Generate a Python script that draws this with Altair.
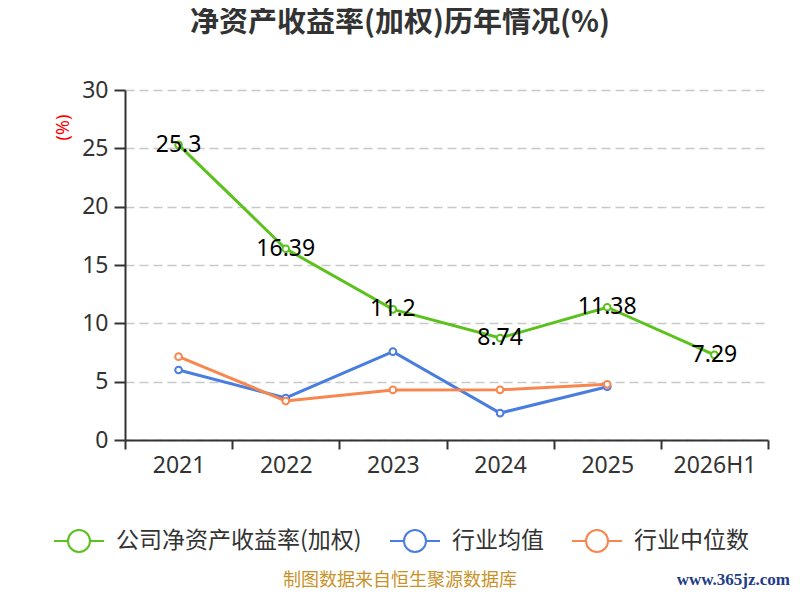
import altair as alt
import pandas as pd

years = ["2021", "2022", "2023", "2024", "2025", "2026H1"]
company = [25.3, 16.39, 11.2, 8.74, 11.38, 7.29]
ind_avg = [6.0, 3.6, 7.57, 2.31, 4.57]
ind_med = [7.14, 3.34, 4.29, 4.3, 4.77]

s_company = "公司净资产收益率(加权)"
s_avg = "行业均值"
s_med = "行业中位数"
series = [s_company, s_avg, s_med]
colors = ["#5bc11d", "#4a7de0", "#f8864f"]

title_text = "净资产收益率(加权)历年情况(%)"
footer_text = "制图数据来自恒生聚源数据库"
site_text = "www.365jz.com"

rows = []
for y, v in zip(years, company):
    rows.append({"year": y, "value": v, "series": s_company, "label": f"{v:g}"})
for y, v in zip(years, ind_avg):
    rows.append({"year": y, "value": v, "series": s_avg, "label": f"{v:g}"})
for y, v in zip(years, ind_med):
    rows.append({"year": y, "value": v, "series": s_med, "label": f"{v:g}"})
df = pd.DataFrame(rows)

symbol_path = "M-1,0L-0.44,0M0.44,0L1,0M-0.44,0A0.44,0.44,0,1,1,0.44,0A0.44,0.44,0,1,1,-0.44,0"

x_enc = alt.X(
    "year:N",
    sort=years,
    scale=alt.Scale(domain=years, paddingInner=0, paddingOuter=0),
    axis=alt.Axis(
        title=None,
        labelAngle=0,
        labelFont="Noto Sans",
        labelFontSize=23,
        labelColor="#333333",
        labelPadding=5,
        tickBand="extent",
        tickSize=9,
        tickColor="#333333",
        tickWidth=2,
        domainColor="#333333",
        domainWidth=2,
        grid=False,
    ),
)
y_enc = alt.Y(
    "value:Q",
    scale=alt.Scale(domain=[0, 30], nice=False, zero=True),
    axis=alt.Axis(
        title="(%)",
        titleColor="#ff0000",
        titleFont="Noto Sans",
        titleFontSize=18,
        titleFontWeight="normal",
        titleAngle=-90,
        titleX=-62,
        titleY=37,
        titleAlign="center",
        titleBaseline="middle",
        values=[0, 5, 10, 15, 20, 25, 30],
        labelFont="Noto Sans",
        labelFontSize=23,
        labelColor="#333333",
        labelPadding=6,
        tickSize=11,
        tickColor="#333333",
        tickWidth=2,
        domainColor="#333333",
        domainWidth=2,
        grid=True,
        gridColor="#c8c8c8",
        gridDash=[9, 5],
        gridWidth=1.5,
    ),
)
color_enc = alt.Color(
    "series:N",
    sort=series,
    scale=alt.Scale(domain=series, range=colors),
    legend=alt.Legend(
        title=None,
        orient="none",
        direction="horizontal",
        legendX=-72,
        legendY=425,
        symbolType=symbol_path,
        symbolSize=2500,
        symbolStrokeWidth=2,
        symbolFillColor="white",
        labelFont="Noto Sans CJK SC",
        labelFontSize=23,
        labelLimit=400,
        labelColor="#333333",
        labelOffset=11,
        columnPadding=24,
    ),
)

base = alt.Chart(df)

def line_layer(name):
    return base.transform_filter(alt.datum.series == name).mark_line(
        strokeWidth=3,
        point=alt.OverlayMarkDef(filled=False, fill="white", size=45, strokeWidth=2),
    ).encode(x=x_enc, y=y_enc, color=color_enc)

labels = base.transform_filter(alt.datum.series == s_company).mark_text(
    font="Noto Sans", fontSize=23, color="#000000", align="center", baseline="middle"
).encode(x=x_enc, y=y_enc, text="label:N")

title = alt.Chart(pd.DataFrame({"t": [title_text]})).mark_text(
    font="Noto Sans CJK SC", fontSize=29, fontWeight="bold", color="#333333",
    align="center", baseline="middle"
).encode(x=alt.value(275), y=alt.value(-67), text="t:N")

footer = alt.Chart(pd.DataFrame({"t": [footer_text]})).mark_text(
    font="Noto Sans CJK SC", fontSize=18, color="#c8922a", align="center", baseline="middle"
).encode(x=alt.value(275), y=alt.value(491), text="t:N")

site = alt.Chart(pd.DataFrame({"t": [site_text]})).mark_text(
    font="Liberation Serif", fontSize=17, fontWeight="bold", color="#1f3c88", align="right", baseline="middle"
).encode(x=alt.value(665), y=alt.value(490), text="t:N")

chart = alt.layer(
    line_layer(s_avg), line_layer(s_med), line_layer(s_company), labels, title, footer, site
).properties(
    width=643,
    height=350,
    autosize=alt.AutoSizeParams(type="none"),
    padding={"left": 117, "top": 82, "right": 24, "bottom": 152},
).configure_view(stroke=None)

chart.save("out.html", embed_options={"renderer": "svg", "actions": False})
